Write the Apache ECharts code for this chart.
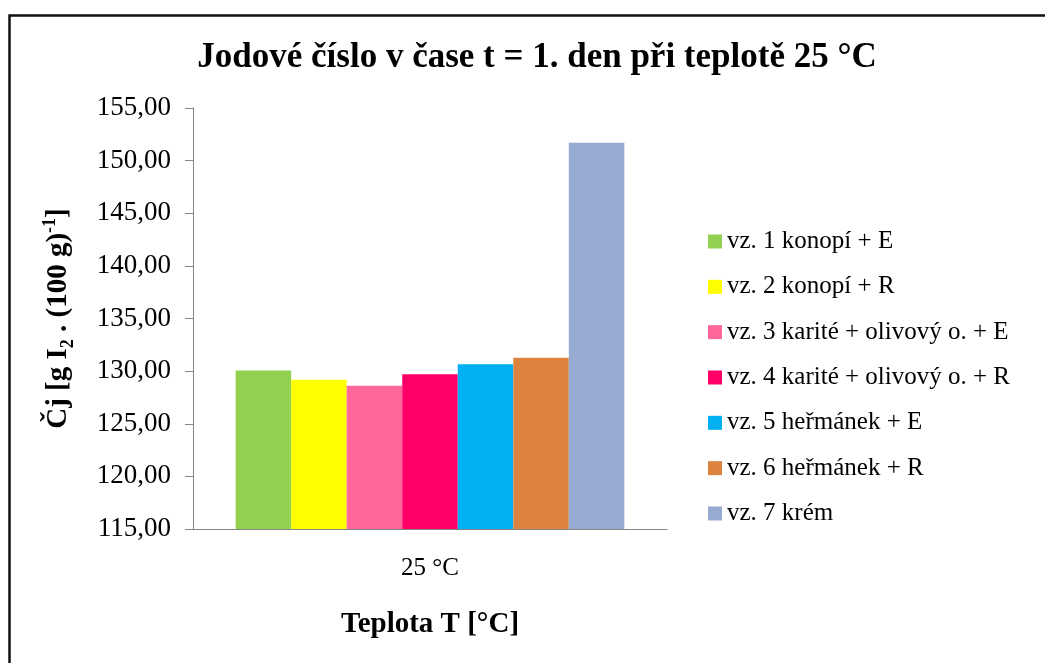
<!DOCTYPE html>
<html>
<head>
<meta charset="utf-8">
<script src="https://cdn.jsdelivr.net/npm/echarts@6/dist/echarts.min.js"></script>
<style>
  html, body { margin: 0; padding: 0; background: #fff; }
  #chart { width: 1045px; height: 663px; }
</style>
</head>
<body>
<div id="chart"></div>
<script>
// data
const categories = ['25 °C'];
const seriesNames = [
    'vz. 1 konopí + E',
    'vz. 2 konopí + R',
    'vz. 3 karité + olivový o. + E',
    'vz. 4 karité + olivový o. + R',
    'vz. 5 heřmánek + E',
    'vz. 6 heřmánek + R',
    'vz. 7 krém'
];
const values = [130.05, 129.19, 128.6, 129.7, 130.65, 131.28, 151.7];
const colors = ['#92d050', '#ffff00', '#ff6699', '#ff0066', '#00b0f0', '#dc843f', '#97aad2'];

const serif = '"Liberation Serif", "DejaVu Serif", serif';

const myChart = echarts.init(document.getElementById('chart'));

const series = seriesNames.map((name, i) => ({
    name: name,
    type: 'bar',
    data: [values[i]],
    barGap: 0,
    barCategoryGap: '18%',
    itemStyle: { color: colors[i] }
}));

myChart.setOption({
    animation: false,
    backgroundColor: '#fff',
    title: {
        text: 'Jodové číslo v čase t = 1. den při teplotě 25 °C',
        left: 532,
        textAlign: 'center',
        top: 35,
        textStyle: { fontFamily: serif, fontSize: 35, fontWeight: 'bold', color: '#000' }
    },
    legend: {
        orient: 'vertical',
        left: 708,
        top: 229,
        padding: 0,
        icon: 'rect',
        itemWidth: 14,
        itemHeight: 14,
        itemGap: 20.33,
        data: seriesNames,
        textStyle: { fontFamily: serif, fontSize: 25, color: '#000' }
    },
    grid: { left: 193, right: 378, top: 108, bottom: 134, containLabel: false },
    xAxis: {
        type: 'category',
        data: categories,
        name: 'Teplota T [°C]',
        nameLocation: 'middle',
        nameGap: 81,
        nameTextStyle: { fontFamily: serif, fontSize: 29, fontWeight: 'bold', color: '#000' },
        axisLine: { lineStyle: { color: '#868686', width: 1 } },
        axisTick: { length: 8, lineStyle: { color: '#868686' } },
        axisLabel: { fontFamily: serif, fontSize: 25, color: '#000', margin: 27 }
    },
    yAxis: {
        type: 'value',
        min: 115,
        max: 155,
        interval: 5,
        name: 'Čj [g I{sub|2} . (100 g){sup|-1}]',
        nameLocation: 'middle',
        nameGap: 116,
        nameRotate: 90,
        nameTextStyle: {
            fontFamily: serif, fontSize: 29, fontWeight: 'bold', color: '#000', lineHeight: 36,
            rich: {
                sub: { fontFamily: serif, fontSize: 18, fontWeight: 'bold', lineHeight: 18, verticalAlign: 'bottom', color: '#000' },
                sup: { fontFamily: serif, fontSize: 18, fontWeight: 'bold', lineHeight: 18, verticalAlign: 'top', color: '#000' }
            }
        },
        axisLine: { show: true, lineStyle: { color: '#868686', width: 1 } },
        axisTick: { show: true, length: 8, lineStyle: { color: '#868686' } },
        splitLine: { show: false },
        axisLabel: {
            fontFamily: serif, fontSize: 27, color: '#000', margin: 22,
            formatter: v => v.toFixed(2).replace('.', ',')
        }
    },
    graphic: [{
        type: 'rect',
        left: 7,
        top: 13,
        shape: { width: 1100, height: 700 },
        style: { fill: 'none', stroke: '#111', lineWidth: 2.5 },
        silent: true
    }],
    series: series
});
</script>
</body>
</html>
